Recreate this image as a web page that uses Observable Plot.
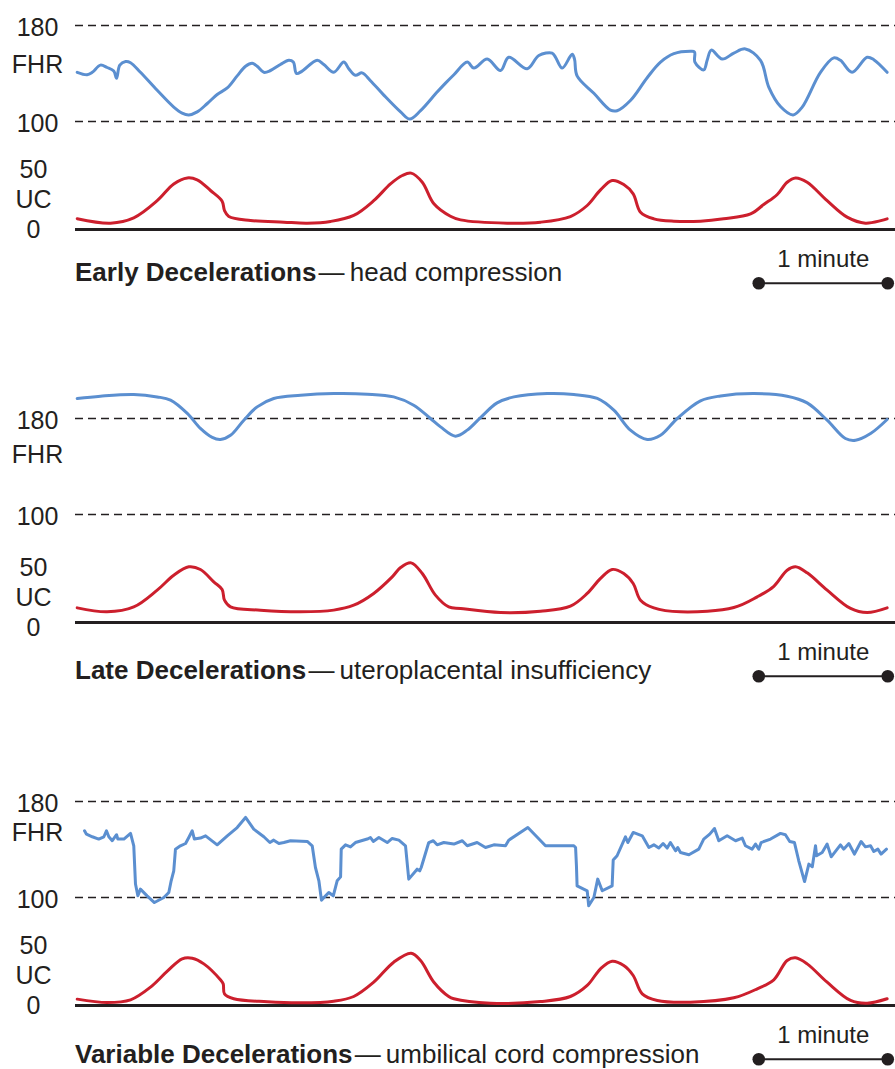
<!DOCTYPE html>
<html>
<head>
<meta charset="utf-8">
<script src="https://cdn.jsdelivr.net/npm/d3@7"></script>
<script src="https://cdn.jsdelivr.net/npm/@observablehq/plot@0.6"></script>
<style>
  html, body { margin: 0; padding: 0; background: #fff; }
  #chart { position: relative; width: 895px; height: 1069px; overflow: hidden;
           font-family: "Liberation Sans", Arial, Helvetica, sans-serif; color: #231f20; }
  .panel { position: absolute; left: 0; width: 895px; }
  .panel svg { position: absolute; left: 0; }
  .title { position: absolute; left: 75px; font-size: 26px; line-height: 30px; white-space: nowrap; }
  .title b { font-weight: bold; }
</style>
</head>
<body>
<div id="chart"></div>
<script>
// ---------- data (time in seconds from start of strip) ----------
const timeDomain = [0, 381.4];
const fhrGuides = [180, 100];
const scaleBarStart = 317.8;   // seconds
const scaleBarSeconds = 60;    // 1 minute

const titleBold = ["Early Decelerations", "Late Decelerations", "Variable Decelerations"];
const titleRest = ["head compression", "uteroplacental insufficiency", "umbilical cord compression"];

// [seconds, bpm]
const earlyFhr = [[0.8,141],[5.4,139],[7.8,141],[11.6,147],[14.7,145],[17.8,142],[19.1,136],[20.6,147],[23.3,150],[25.6,149],[30.2,141],[38.0,126],[45.7,112],[49.6,107],[52.7,105.5],[56.6,108],[61.3,115],[65.9,122.5],[70.6,128],[75.2,138],[79.1,146],[82.2,148.5],[84.5,146],[87.6,141],[90.7,142.5],[95.3,147.5],[99.2,151],[101.3,149.5],[102.8,140],[105.4,142],[112.4,151],[115.5,147.5],[120.1,141],[124.8,149.5],[127.1,144],[130.2,138.5],[133.3,140.5],[137.2,134],[143.4,122],[151.2,108],[155.5,102],[160.5,109],[168.2,124.5],[172.1,132],[176.0,139],[182.2,149.5],[185.3,144.5],[191.5,152],[197.7,142.5],[201.5,153.5],[210.1,144],[215.5,155],[221.7,157],[223.3,153.5],[226.4,144.5],[231.0,156],[232.1,152],[233.3,138],[241.1,123.5],[248.8,109.5],[251.9,109],[258.1,117.5],[265.9,136.5],[272.1,149.5],[278.3,156.5],[286.0,158.5],[287.9,158],[288.1,149.5],[292.2,143],[293.8,151],[295.7,159.5],[300.8,152],[306.2,157],[311.6,160.5],[318.6,151],[322.5,128.5],[327.9,112.5],[333.8,105.5],[338.0,112],[346.5,141],[352.7,153],[355.8,151],[361.2,141],[368.2,153.5],[371.3,151.5],[377.5,141]];

// [seconds, mmHg]
const earlyUc = [[0.8,9],[16.3,5.3],[27.1,9.7],[38.0,24],[45.7,38],[52.0,43],[56.6,41.4],[62.8,32.5],[68.2,23.6],[69.3,15.8],[71.3,10.8],[81.4,7.5],[96.9,6.1],[107.8,5.3],[118.6,6.7],[129.4,11.7],[138.7,24],[146.5,38],[152.0,45],[156.1,47],[161.3,39.4],[166.7,21.4],[174.4,11],[179.1,8],[200.8,5.3],[216.3,6.1],[230.2,10.8],[238.0,20],[244.2,33],[249.6,40.8],[255.0,37.5],[259.4,29.7],[262.8,14.4],[269.0,8.9],[278.3,6.9],[290.7,6.9],[301.5,8.9],[314.0,13],[320.1,20.8],[326.4,29.2],[331.0,39.4],[334.9,43],[340.3,39.4],[349.6,24],[358.9,10.3],[367.4,5.3],[377.5,8.9]];

const lateFhr = [[0.8,196.7],[11.6,198.6],[27.1,200],[38.0,198],[44.2,195.3],[52.0,184.2],[58.1,171.7],[63.6,164.2],[67.4,162.5],[72.1,166],[78.3,178.6],[84.5,189.7],[92.2,196.7],[104.7,199.4],[120.1,200.8],[135.7,200.3],[148.0,198],[157.3,191.1],[165.1,180],[169.8,173],[176.7,165.3],[182.2,170.3],[188.4,180.8],[196.1,193],[203.9,198],[219.4,200.8],[231.8,200],[242.7,196.7],[250.4,186.9],[258.1,170.3],[265.9,162.5],[272.1,166],[279.9,180],[290.7,194.7],[300.0,198.8],[315.5,200.8],[331.0,198.6],[340.3,193],[349.6,178.6],[358.1,163.3],[362.8,161.9],[369.8,167.5],[377.5,179.2]];

const lateUc = [[0.8,12.2],[14.7,8.9],[27.1,13],[38.0,27],[45.7,39.4],[52.7,46.4],[58.1,44.2],[64.3,33.9],[68.2,27.5],[69.3,18.6],[72.1,13],[86.0,10.3],[104.7,8.9],[120.1,10.3],[129.4,14.4],[138.7,24.2],[147.3,38],[151.2,45.8],[156.1,49.7],[161.3,40.8],[167.4,22.8],[173.6,13],[179.1,11.7],[197.7,8.3],[216.3,9.4],[230.2,13.6],[238.0,24.2],[244.2,36.7],[249.6,44.2],[255.0,40.8],[259.4,32.5],[262.8,18.6],[269.0,12.2],[281.4,8.9],[306.2,12.5],[317.1,21.4],[324.8,30.2],[331.0,43.6],[334.9,46.4],[340.3,41.4],[349.6,27],[360.5,11.7],[368.2,8.3],[377.5,12.2]];

const variableFhr = [[4.2,155.6],[5.1,152.8],[7.8,150.6],[10.8,148.7],[13.2,150.6],[14.4,155.6],[15.5,150.6],[17.1,147.3],[19.1,152.3],[19.7,148.7],[22.5,148.7],[25.6,153.4],[27.1,143.1],[27.9,111.2],[29.0,101.4],[30.2,107],[33.3,101.4],[36.7,95.8],[41.1,100],[43.4,104.2],[44.5,113.9],[45.7,122.2],[46.5,140.3],[48.8,143.1],[51.2,145],[52.7,150],[54.3,155.6],[55.3,148.7],[58.1,149.5],[60.5,151.4],[65.9,143.9],[70.6,151.4],[75.2,158.3],[79.1,166.7],[82.9,157],[87.6,150.6],[90.4,145.8],[92.2,147.8],[94.6,145],[96.9,145.8],[100.0,147.3],[107.8,146.7],[110.1,143.1],[111.6,125],[113.2,113.9],[114.4,97.8],[117.8,104.2],[119.9,101.4],[121.7,113.9],[123.3,117.2],[123.6,140.3],[125.6,143.9],[127.9,142.2],[130.2,145.8],[135.7,148.7],[137.2,150],[138.5,146.7],[141.1,150],[145.0,145.8],[147.3,149.2],[150.4,147.8],[153.5,143.1],[155.0,115.3],[158.9,123.6],[160.1,122.2],[160.8,125],[164.3,145.8],[166.4,147.3],[168.2,143.9],[171.3,145.8],[174.4,145],[176.0,144.5],[179.9,147.3],[182.2,143.1],[186.8,145.8],[190.7,141.7],[194.6,143.9],[200.0,143.1],[201.5,147.8],[210.4,158.3],[218.6,143.1],[231.8,143.1],[232.6,141.7],[233.0,126.4],[233.3,109.7],[238.0,105.6],[238.7,93.1],[241.1,100],[242.9,115.3],[245.0,105.6],[249.6,109.7],[250.1,131.2],[251.9,134.8],[255.8,150.6],[256.9,145.8],[259.4,154.2],[263.6,151.4],[266.7,141.7],[269.0,143.9],[271.3,141.2],[273.3,145],[275.2,141.2],[276.7,145.8],[279.1,138.9],[280.1,141.7],[281.4,137.5],[285.3,135.6],[289.9,140.3],[292.2,148.7],[295.0,152.8],[297.2,157.5],[299.2,147.3],[303.1,151.4],[307.0,147.3],[310.1,149.5],[311.6,143.1],[314.7,140.3],[316.3,144.5],[317.8,140.3],[318.9,145.8],[323.3,148.7],[327.9,153.4],[330.2,152.3],[332.2,146.7],[334.4,145.8],[336.4,130.6],[339.1,113.3],[341.1,127.8],[342.7,125.6],[344.2,143.1],[344.7,134.8],[347.3,137.5],[349.6,144.5],[351.5,133.9],[355.8,143.9],[357.3,140.3],[359.7,145],[362.3,136.2],[365.4,146.7],[367.4,142.2],[369.8,143.1],[371.3,138.3],[373.2,140.3],[374.7,136.2],[377.2,140.3]];

const variableUc = [[0.8,5.3],[14.7,2.5],[25.6,4.7],[34.9,15.3],[42.7,28.6],[49.6,38.9],[54.3,39.4],[59.7,34.7],[67.4,21.4],[68.7,18],[69.3,9.7],[73.6,5.6],[89.2,3.1],[104.7,2.2],[120.1,3.6],[129.4,7.5],[138.7,19.4],[148.0,36.1],[156.1,43.6],[160.5,37.5],[166.7,19.4],[173.6,7.5],[176.0,5.6],[193.0,1.9],[216.3,3.3],[230.2,7.5],[238.0,16.7],[244.2,30.6],[249.6,36.9],[255.0,33.3],[259.4,25],[263.6,9.7],[270.6,4.2],[286.0,2.8],[306.2,6.4],[317.1,13.9],[324.8,21.4],[331.0,37.5],[334.9,39.7],[340.3,34.7],[349.6,19.4],[360.5,4.2],[368.2,1.9],[377.5,5.6]];

// ---------- styling / layout ----------
const FONT = '"Liberation Sans", Arial, Helvetica, sans-serif';
const INK = "#231f20", BLUE = "#5b8fd0", RED = "#cc1f2d";

const panels = [
  {fhr: earlyFhr,    uc: earlyUc,    curve: "catmull-rom", top: 0,   fhrLabelAt: 149, ucShift: 0, titleBaseline: 281},
  {fhr: lateFhr,     uc: lateUc,     curve: "catmull-rom", top: 393, fhrLabelAt: 152, ucShift: 5, titleBaseline: 286},
  {fhr: variableFhr, uc: variableUc, curve: "linear",      top: 776, fhrLabelAt: 156, ucShift: 0, titleBaseline: 287}
];

function fhrChart(p) {
  const pts = p.fhr.map(([t, v]) => ({t, v}));
  const labels = [{v: 180, s: "180"}, {v: p.fhrLabelAt, s: "FHR"}, {v: 100, s: "100"}];
  return Plot.plot({
    width: 895, height: 145,
    marginLeft: 75, marginRight: 0, marginTop: 25, marginBottom: 24,
    x: {domain: timeDomain, axis: null},
    y: {domain: [100, 180], axis: null},
    style: {background: "transparent", overflow: "visible", fontFamily: FONT},
    marks: [
      Plot.ruleY(fhrGuides, {stroke: INK, strokeWidth: 1.3, strokeDasharray: "8,5"}),
      Plot.line(pts, {x: "t", y: "v", stroke: BLUE, strokeWidth: 3, curve: p.curve, strokeLinejoin: "round"}),
      Plot.text(labels, {y: "v", text: "s", frameAnchor: "left", dx: -38, dy: 2.5,
                         textAnchor: "middle", fontSize: 25, fill: INK})
    ]
  });
}

function ucChart(p) {
  const pts = p.uc.map(([t, v]) => ({t, v}));
  const labels = [{v: 50, s: "50"}, {v: 25, s: "UC"}, {v: 0, s: "0"}];
  const ends = [scaleBarStart, scaleBarStart + scaleBarSeconds];
  return Plot.plot({
    width: 895, height: 150,
    marginLeft: 75, marginRight: 0, marginTop: 24, marginBottom: 66,
    x: {domain: timeDomain, axis: null},
    y: {domain: [0, 50], axis: null},
    style: {background: "transparent", overflow: "visible", fontFamily: FONT},
    marks: [
      Plot.ruleY([0], {stroke: INK, strokeWidth: 3}),
      Plot.line(pts, {x: "t", y: "v", stroke: RED, strokeWidth: 3, curve: "catmull-rom"}),
      Plot.text(labels, {y: "v", text: "s", frameAnchor: "left", dx: -42, dy: p.ucShift,
                         textAnchor: "middle", fontSize: 25, fill: INK}),
      Plot.ruleY([{a: ends[0], b: ends[1]}], {x1: "a", x2: "b", y: 0, dy: 53.7, stroke: INK, strokeWidth: 2}),
      Plot.dot(ends, {x: d => d, y: 0, dy: 53.7, r: 6.3, fill: INK, stroke: "none"}),
      Plot.text(["1 minute"], {x: scaleBarStart + scaleBarSeconds / 2, y: 0, dy: 29.7,
                               text: d => d, fontSize: 24, fill: INK})
    ]
  });
}

const root = document.getElementById("chart");
panels.forEach((p, i) => {
  const div = document.createElement("div");
  div.className = "panel";
  div.style.top = p.top + "px";
  div.style.height = "300px";
  const f = fhrChart(p);
  f.style.top = "0px";
  const u = ucChart(p);
  u.style.top = "145px";
  const t = document.createElement("div");
  t.className = "title";
  t.style.top = (p.titleBaseline - 24) + "px";
  t.innerHTML = "<b>" + titleBold[i] + "</b>\u200A\u2014\u2009" + titleRest[i];
  div.appendChild(f);
  div.appendChild(u);
  div.appendChild(t);
  root.appendChild(div);
});
</script>
</body>
</html>
